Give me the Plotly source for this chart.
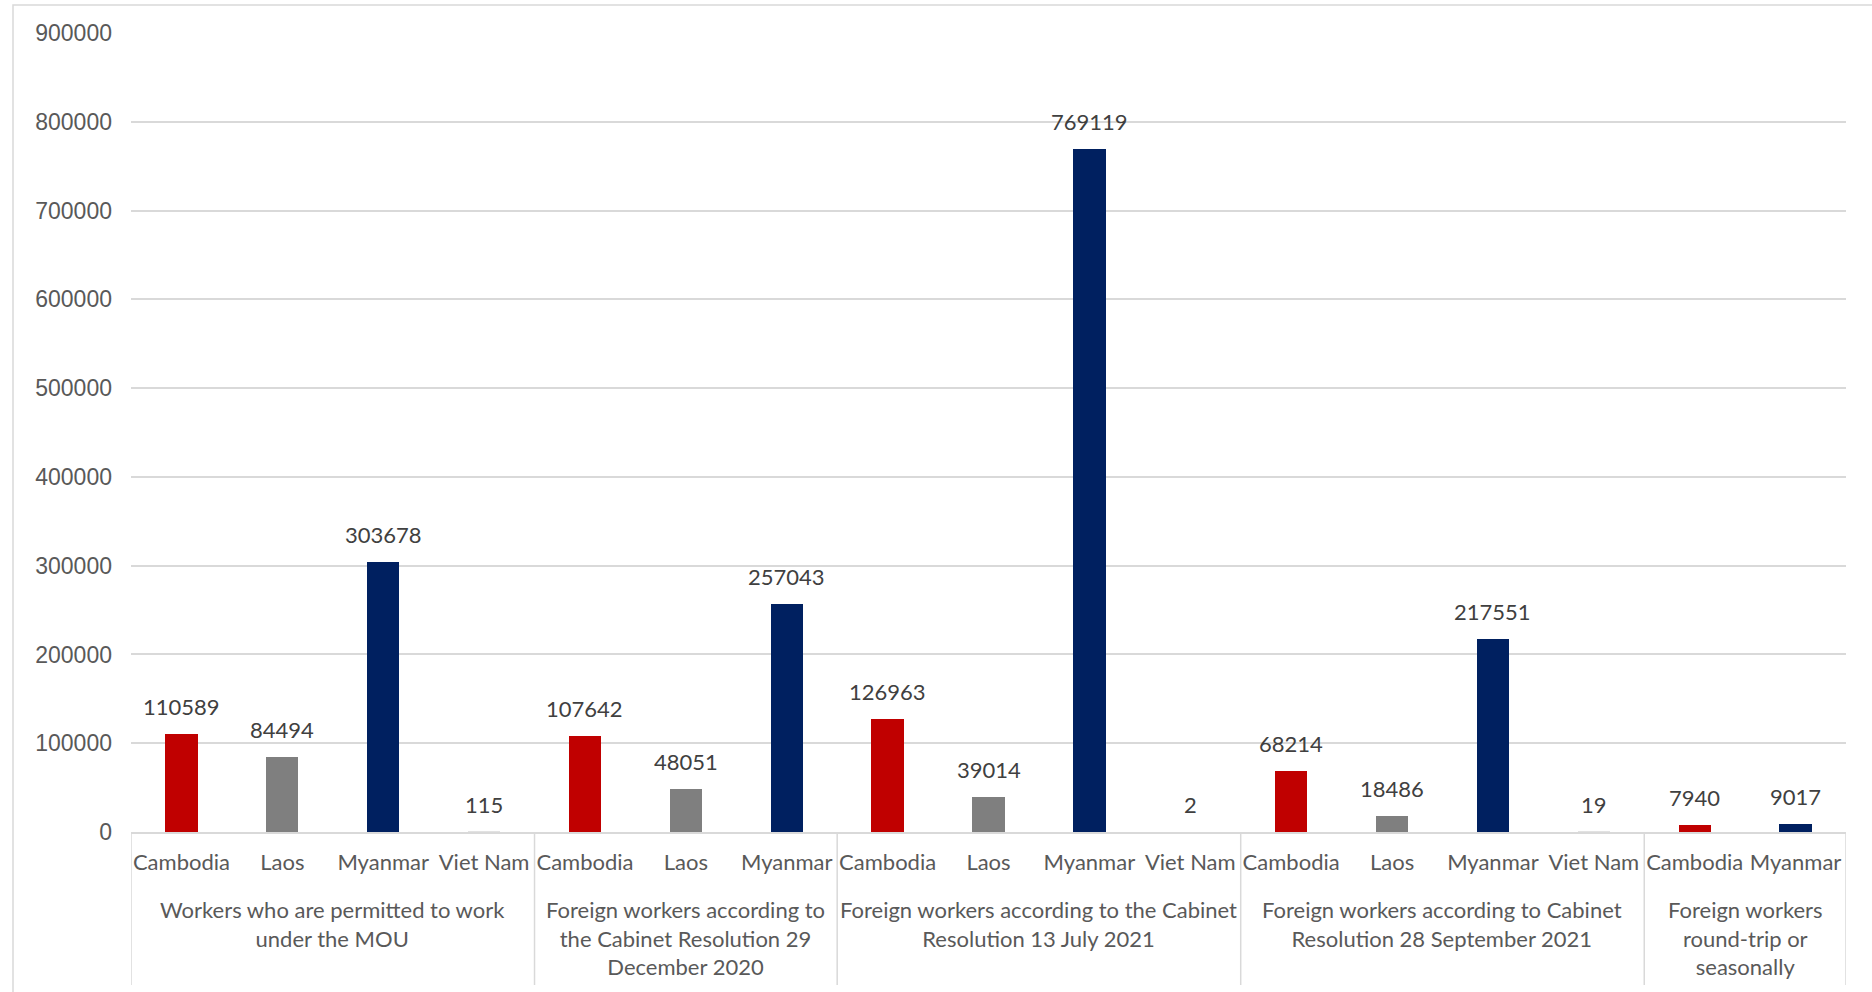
import plotly.graph_objects as go

# Foreign workers by nationality, grouped by permit category
groups = [
    "Workers who are permitted to work<br>under the MOU",
    "Foreign workers according to<br>the Cabinet Resolution 29<br>December 2020",
    "Foreign workers according to the Cabinet<br>Resolution 13 July 2021",
    "Foreign workers according to Cabinet<br>Resolution 28 September 2021",
    "Foreign workers<br>round-trip or<br>seasonally",
]
group_countries = [
    ["Cambodia", "Laos", "Myanmar", "Viet Nam"],
    ["Cambodia", "Laos", "Myanmar"],
    ["Cambodia", "Laos", "Myanmar", "Viet Nam"],
    ["Cambodia", "Laos", "Myanmar", "Viet Nam"],
    ["Cambodia", "Myanmar"],
]
group_values = [
    [110589, 84494, 303678, 115],
    [107642, 48051, 257043],
    [126963, 39014, 769119, 2],
    [68214, 18486, 217551, 19],
    [7940, 9017],
]
y_ticks = [0, 100000, 200000, 300000, 400000, 500000, 600000, 700000, 800000, 900000]

country_colors = {
    "Cambodia": "#C00000",
    "Laos": "#7F7F7F",
    "Myanmar": "#002060",
    "Viet Nam": "#E2E2E2",
}

# flatten the two-level category structure into bar positions
countries, values, positions = [], [], []
group_bounds = []
pos = 0
for cs, vs in zip(group_countries, group_values):
    start = pos
    for c, v in zip(cs, vs):
        countries.append(c)
        values.append(v)
        positions.append(pos)
        pos += 1
    group_bounds.append((start - 0.5, pos - 0.5))

W, H = 1872, 992
ML, MR, MT, MB = 131, 26, 33, 160
plot_h = H - MT - MB


def py_to_paper(py):
    return (H - MB - py) / plot_h


def px_to_paper(px):
    return (px - ML) / (W - ML - MR)


fig = go.Figure()
fig.add_trace(go.Bar(
    x=positions,
    y=values,
    width=0.32,
    marker=dict(color=[country_colors[c] for c in countries], line=dict(width=0)),
    hoverinfo="skip",
))

label_font = dict(family="Lato, Liberation Sans, sans-serif", size=22, color="#404040")

annotations = []
for x, v in zip(positions, values):
    annotations.append(dict(
        x=x, y=v, xref="x", yref="y", text=str(v), showarrow=False,
        yanchor="bottom", yshift=12, font=label_font,
    ))

shapes = []
for (g0, g1), gname in zip(group_bounds, groups):
    annotations.append(dict(
        x=(g0 + g1) / 2, y=py_to_paper(894), xref="x", yref="paper",
        text=gname, showarrow=False, yanchor="top", align="center",
        font=dict(family="Lato, Liberation Sans, sans-serif", size=22, color="#595959"),
    ))

# group dividers beneath the category axis
bounds = sorted({b for gb in group_bounds for b in gb})
for b in bounds:
    shapes.append(dict(
        type="line", xref="x", yref="paper", x0=b, x1=b,
        y0=0, y1=py_to_paper(985), line=dict(color="#D9D9D9", width=1.5),
    ))

# outer chart border
shapes.append(dict(
    type="rect", xref="paper", yref="paper",
    x0=px_to_paper(13), x1=px_to_paper(1900),
    y0=py_to_paper(1010), y1=py_to_paper(5),
    line=dict(color="#D9D9D9", width=1.5), fillcolor="rgba(0,0,0,0)", layer="below",
))

fig.update_layout(
    width=W, height=H,
    margin=dict(l=ML, r=MR, t=MT, b=MB),
    paper_bgcolor="white", plot_bgcolor="white",
    showlegend=False,
    annotations=annotations,
    shapes=shapes,
    bargap=0,
)
fig.update_xaxes(
    range=[-0.5, pos - 0.5],
    tickmode="array", tickvals=positions, ticktext=countries,
    tickfont=dict(family="Lato, Liberation Sans, sans-serif", size=22, color="#595959"),
    ticks="", ticklabelstandoff=10, tickangle=0,
    showgrid=False, zeroline=False,
    showline=True, linecolor="#D9D9D9", linewidth=1.5,
)
fig.update_yaxes(
    range=[0, 900000],
    tickmode="array", tickvals=y_ticks, ticktext=[str(t) for t in y_ticks],
    tickfont=dict(family="Liberation Sans, Arial, sans-serif", size=23, color="#595959"),
    ticks="", ticklabelstandoff=18,
    showgrid=True, gridcolor="#D9D9D9", gridwidth=1.5,
    zeroline=False, showline=False,
)

fig.write_html("out.html")
